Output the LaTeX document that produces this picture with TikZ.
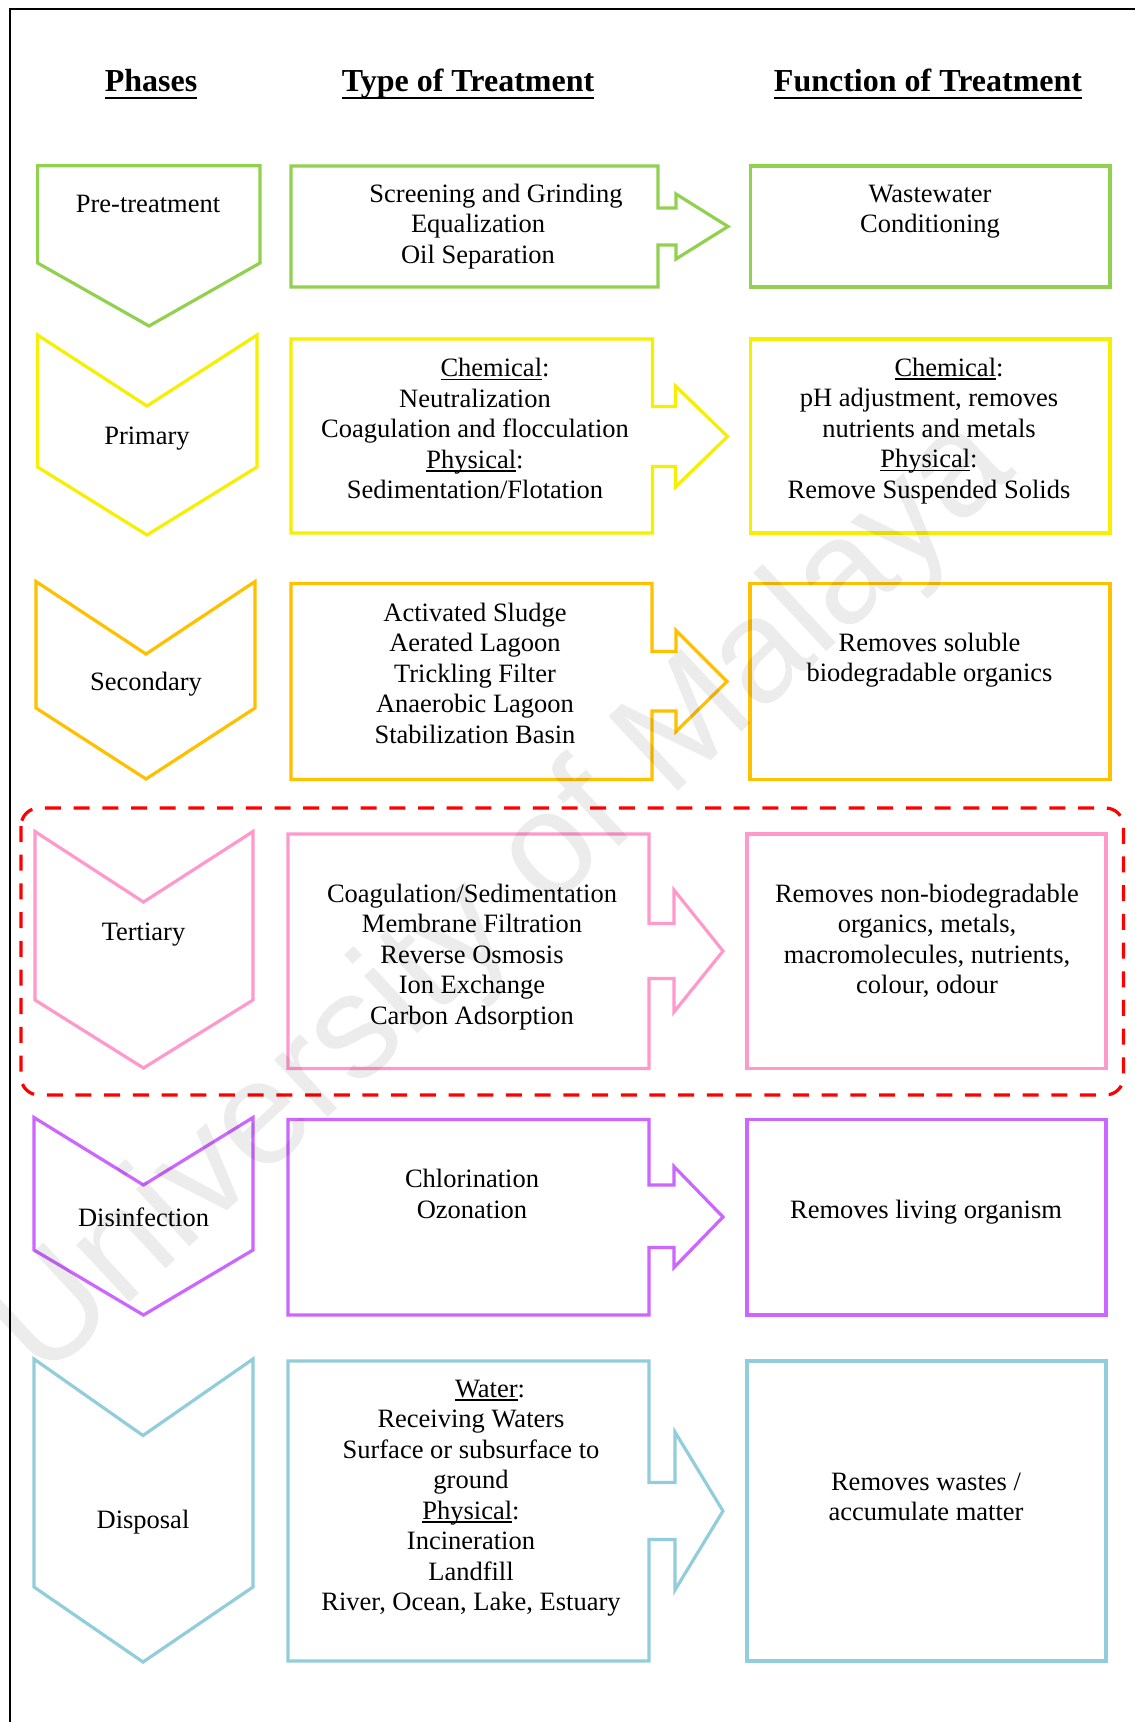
\documentclass[tikz,border=0pt]{standalone}
\usepackage{fontspec}
\setmainfont{Liberation Serif}
\newfontfamily\wmfont{Liberation Sans}

\definecolor{pgreen}{HTML}{92D050}
\definecolor{pyellow}{HTML}{F7EF00}
\definecolor{porange}{HTML}{FFC000}
\definecolor{ppink}{HTML}{FF99CC}
\definecolor{ppurple}{HTML}{CC66FF}
\definecolor{pblue}{HTML}{92CDDC}

% underlines drawn at a fixed depth, as a word processor does
\newsavebox\ulbox
\newcommand{\ulw}[1]{\sbox\ulbox{#1}\rlap{\rule[-1.6pt]{\wd\ulbox}{0.8pt}}\usebox\ulbox}
\newcommand{\ulh}[1]{\sbox\ulbox{#1}\rlap{\rule[-3.6pt]{\wd\ulbox}{1.1pt}}\usebox\ulbox}
\newcommand{\bodyfont}{\fontsize{13.25}{15.25}\selectfont}
\newcommand{\headfont}{\fontsize{16}{19}\selectfont\bfseries}

\begin{document}
\begin{tikzpicture}[x=0.5pt, y=-0.5pt,
  shp/.style={line width=1.6pt},
  txt/.style={align=center, inner sep=0pt, anchor=north, font=\bodyfont},
  lab/.style={inner sep=0pt, anchor=base, font=\bodyfont},
  hdr/.style={inner sep=0pt, anchor=base, font=\headfont},
  wm/.style={inner sep=0pt, font={\wmfont\fontsize{74}{80}\selectfont}, text=black, text opacity=0.075}]

\useasboundingbox (0,0) rectangle (1134,1722);
\fill[white] (0,0) rectangle (1134,1722);

% page frame
\draw[line width=1pt] (10,1730) -- (10,9) -- (1140,9);

% column headings
\node[hdr] (h1) at (151,92) {\ulh{Phases}};
\node[hdr] (h2) at (468,92) {\ulh{Type of Treatment}};
\node[hdr] (h3) at (928,92) {\ulh{Function of Treatment}};

% ---- Pre-treatment ----
\draw[shp, pgreen] (37.6,165.7) -- (260,165.7) -- (260,263) -- (149,326) -- (37.6,263) -- cycle;
\draw[shp, pgreen] (291,166) -- (658,166) -- (658,208) -- (676,208) -- (676,194) -- (728,226.5)
  -- (676,259) -- (676,245) -- (658,245) -- (658,287) -- (291,287) -- cycle;
\draw[shp, pgreen] (750.5,166) rectangle (1110,287);
\node[lab] (p1) at (148,212.7) {Pre-treatment};
\node[txt] (t1) at (478,180.65) {\strut\hspace*{18pt}Screening and Grinding\\Equalization\\Oil Separation};
\node[txt] (f1) at (930,180.65) {\strut Wastewater\\Conditioning};

% ---- Primary ----
\draw[shp, pyellow] (37.6,335) -- (147,406) -- (257,335) -- (257,467) -- (147,535) -- (37.6,467) -- cycle;
\draw[shp, pyellow] (291,339) -- (652.5,339) -- (652.5,406.5) -- (675.5,406.5) -- (675.5,386) -- (727.5,436.5)
  -- (675.5,487) -- (675.5,466.5) -- (652.5,466.5) -- (652.5,533) -- (291,533) -- cycle;
\draw[shp, pyellow] (750.5,339) rectangle (1110,533);
\node[lab] (p2) at (147,444) {Primary};
\node[txt] (t2) at (475,355.15) {\strut\hspace*{20pt}\ulw{Chemical}:\\Neutralization\\Coagulation and flocculation\\\ulw{Physical}:\\Sedimentation/Flotation};
\node[txt] (f2) at (929,354.65) {\strut\hspace*{20pt}\ulw{Chemical}:\\pH adjustment, removes\\nutrients and metals\\\ulw{Physical}:\\Remove Suspended Solids};

% ---- Secondary ----
\draw[shp, porange] (36,581.5) -- (146,654) -- (255,581.5) -- (255,708) -- (146,779) -- (36,708) -- cycle;
\draw[shp, porange] (291,583.5) -- (652,583.5) -- (652,651.5) -- (676,651.5) -- (676,630.5) -- (727,681.5)
  -- (676,731.5) -- (676,711) -- (652,711) -- (652,779.5) -- (291,779.5) -- cycle;
\draw[shp, porange] (750,583.5) rectangle (1110,779.5);
\node[lab] (p3) at (146,690) {Secondary};
\node[txt] (t3) at (475,599.65) {\strut Activated Sludge\\Aerated Lagoon\\Trickling Filter\\Anaerobic Lagoon\\Stabilization Basin};
\node[txt] (f3) at (929.5,629.65) {\strut Removes soluble\\biodegradable organics};

% ---- Tertiary ----
\draw[shp, ppink] (35,831.5) -- (143.5,902) -- (253,831.5) -- (253,1000) -- (143.5,1068) -- (35,1000) -- cycle;
\draw[shp, ppink] (288,834) -- (649,834) -- (649,923.5) -- (674,923.5) -- (674,890) -- (723,951)
  -- (674,1012) -- (674,978.5) -- (649,978.5) -- (649,1068.5) -- (288,1068.5) -- cycle;
\draw[shp, ppink] (747,834) rectangle (1106,1068.5);
\node[lab] (p4) at (143.5,940) {Tertiary};
\node[txt] (t4) at (472,880.65) {\strut Coagulation/Sedimentation\\Membrane Filtration\\Reverse Osmosis\\Ion Exchange\\Carbon Adsorption};
\node[txt] (f4) at (927,880.65) {\strut Removes non-biodegradable\\organics, metals,\\macromolecules, nutrients,\\colour, odour};

% highlight round the tertiary row
\draw[line width=1.6pt, red, dash pattern=on 8pt off 6.35pt, rounded corners=9pt]
  (21,808) rectangle (1123.5,1095);

% ---- Disinfection ----
\draw[shp, ppurple] (34,1117.5) -- (143.5,1185) -- (253,1117.5) -- (253,1250) -- (143.5,1315) -- (34,1250) -- cycle;
\draw[shp, ppurple] (288,1119.5) -- (649,1119.5) -- (649,1185) -- (674,1185) -- (674,1166.5) -- (723,1217)
  -- (674,1267.5) -- (674,1247.5) -- (649,1247.5) -- (649,1315) -- (288,1315) -- cycle;
\draw[shp, ppurple] (747,1119.5) rectangle (1106,1315);
\node[lab] (p5) at (143.5,1226) {Disinfection};
\node[txt] (t5) at (472,1166.15) {\strut Chlorination\\Ozonation};
\node[txt] (f5) at (926,1197.15) {\strut Removes living organism};

% ---- Disposal ----
\draw[shp, pblue] (34,1359) -- (143,1435.5) -- (253,1359) -- (253,1587) -- (143,1662) -- (34,1587) -- cycle;
\draw[shp, pblue] (288,1361) -- (649,1361) -- (649,1482.5) -- (675,1482.5) -- (675,1432) -- (723,1511)
  -- (675,1590) -- (675,1539.5) -- (649,1539.5) -- (649,1661) -- (288,1661) -- cycle;
\draw[shp, pblue] (747,1361) rectangle (1106,1661);
\node[lab] (p6) at (143,1528.5) {Disposal};
\node[txt] (t6) at (471,1375.65) {\strut\hspace*{19pt}\ulw{Water}:\\Receiving Waters\\Surface or subsurface to\\ground\\\ulw{Physical}:\\Incineration\\Landfill\\River, Ocean, Lake, Estuary};
\node[txt] (f6) at (926,1468.65) {\strut Removes wastes /\\accumulate matter};

% faint diagonal watermark
\node[wm, rotate=43] (wmark) at (505,900) {University of Malaya};

\end{tikzpicture}
\end{document}
